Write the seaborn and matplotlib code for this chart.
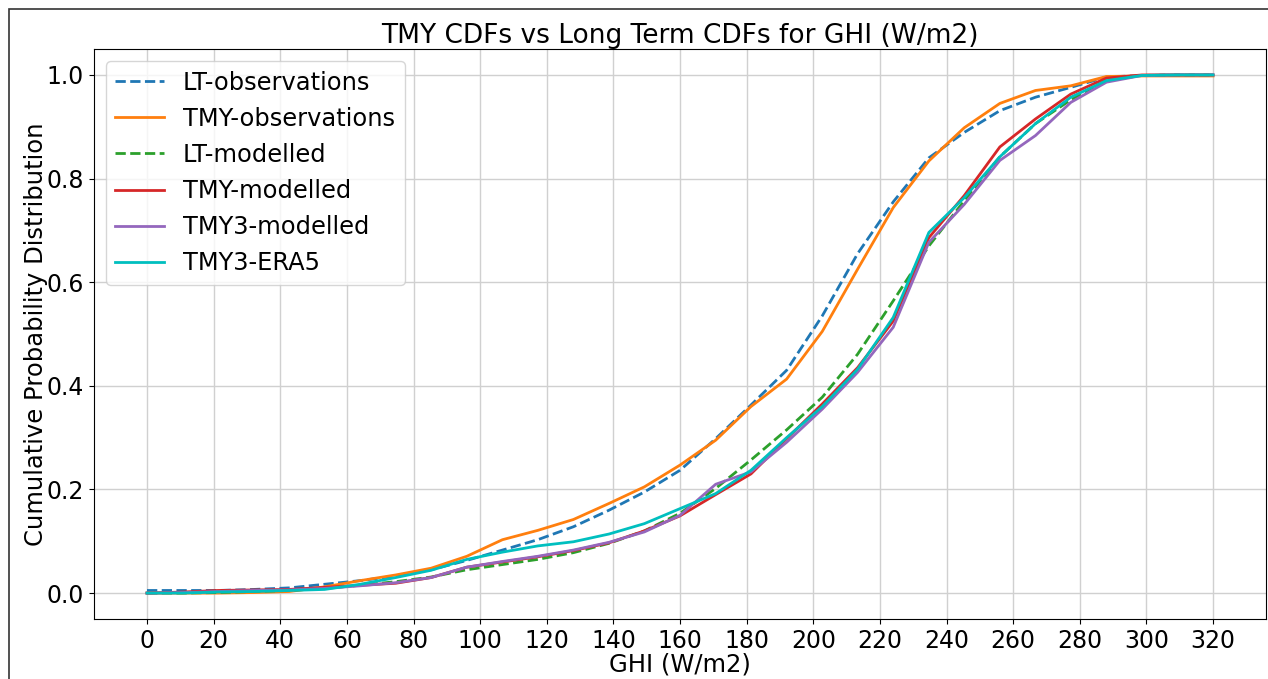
import pandas as pd
import seaborn as sns
import matplotlib.pyplot as plt
from matplotlib.patches import Rectangle

# GHI bin centres (W/m2)
ghi = [0, 10.7, 21.3, 32, 42.7, 53.3, 64, 74.7, 85.3, 96, 106.7, 117.3, 128, 138.7, 149.3,
       160, 170.7, 181.3, 192, 202.7, 213.3, 224, 234.7, 245.3, 256, 266.7, 277.3, 288,
       298.7, 309.3, 320]

lt_obs = [0.005, 0.005, 0.005, 0.007, 0.010, 0.017, 0.024, 0.033, 0.045, 0.063, 0.083, 0.103,
          0.128, 0.160, 0.195, 0.237, 0.298, 0.363, 0.430, 0.535, 0.655, 0.755, 0.840, 0.889,
          0.931, 0.957, 0.976, 0.996, 0.999, 1.0, 1.0]
tmy_obs = [0.0, 0.0, 0.0, 0.001, 0.003, 0.012, 0.024, 0.035, 0.048, 0.071, 0.103, 0.121,
           0.142, 0.173, 0.205, 0.247, 0.295, 0.360, 0.413, 0.505, 0.625, 0.744, 0.834, 0.898,
           0.945, 0.970, 0.979, 0.997, 0.998, 0.998, 0.998]
lt_mod = [0.0, 0.0, 0.001, 0.003, 0.005, 0.009, 0.015, 0.022, 0.031, 0.045, 0.055, 0.065,
          0.078, 0.096, 0.120, 0.154, 0.202, 0.257, 0.315, 0.378, 0.461, 0.564, 0.670, 0.757,
          0.842, 0.906, 0.952, 0.990, 0.999, 1.0, 1.0]
tmy_mod = [0.0, 0.002, 0.005, 0.006, 0.007, 0.011, 0.015, 0.019, 0.030, 0.050, 0.060, 0.070,
           0.082, 0.097, 0.120, 0.149, 0.190, 0.230, 0.298, 0.365, 0.435, 0.525, 0.686, 0.767,
           0.861, 0.915, 0.963, 0.994, 1.0, 1.0, 1.0]
tmy3_mod = [0.0, 0.001, 0.003, 0.005, 0.006, 0.009, 0.014, 0.020, 0.030, 0.050, 0.061, 0.071,
            0.083, 0.098, 0.118, 0.150, 0.210, 0.234, 0.291, 0.355, 0.426, 0.513, 0.677, 0.750,
            0.835, 0.883, 0.947, 0.986, 0.999, 1.0, 1.0]
tmy3_era5 = [0.0, 0.0, 0.002, 0.003, 0.005, 0.007, 0.017, 0.030, 0.044, 0.065, 0.079, 0.091,
             0.099, 0.114, 0.134, 0.163, 0.192, 0.237, 0.300, 0.360, 0.432, 0.532, 0.696, 0.763,
             0.842, 0.906, 0.957, 0.989, 0.999, 1.0, 1.0]

series = [
    ('LT-observations', lt_obs, 'tab:blue', '--'),
    ('TMY-observations', tmy_obs, 'tab:orange', '-'),
    ('LT-modelled', lt_mod, 'tab:green', '--'),
    ('TMY-modelled', tmy_mod, 'tab:red', '-'),
    ('TMY3-modelled', tmy3_mod, 'tab:purple', '-'),
    ('TMY3-ERA5', tmy3_era5, 'c', '-'),
]

fig = plt.figure(figsize=(12.68, 6.79), dpi=100)
ax = fig.add_axes([0.0739, 0.0884, 0.9248, 0.8394])

for name, vals, col, ls in series:
    df = pd.DataFrame({'GHI': ghi, 'CDF': vals})
    sns.lineplot(data=df, x='GHI', y='CDF', ax=ax, color=col, linestyle=ls,
                 linewidth=2, label=name)

ax.set_xlim(-16, 336)
ax.set_ylim(-0.05, 1.05)
ax.set_xticks(range(0, 321, 20))
ax.set_yticks([0.0, 0.2, 0.4, 0.6, 0.8, 1.0])
ax.tick_params(labelsize=17)
ax.grid(True, color='#d0d0d0', linewidth=1)
ax.set_axisbelow(True)

ax.set_title('TMY CDFs vs Long Term CDFs for GHI (W/m2)', fontsize=19, pad=4)
ax.set_xlabel('GHI (W/m2)', fontsize=17.5, labelpad=0)
ax.set_ylabel('Cumulative Probability Distribution', fontsize=17.5, labelpad=-1)
ax.legend(loc='upper left', fontsize=17.4)

# frame around the figure
fig.patches.append(Rectangle((9 / 1268, -0.1), 1.2, 1.1 - 9 / 679,
                             transform=fig.transFigure, fill=False,
                             edgecolor='#333333', linewidth=1.2))

fig.savefig('out.png', dpi=100)
